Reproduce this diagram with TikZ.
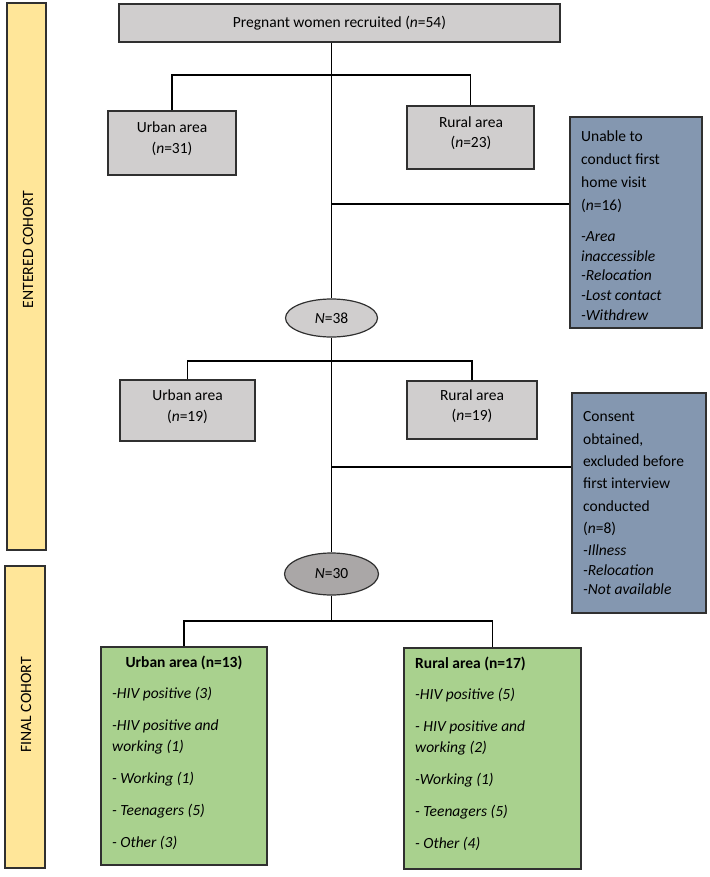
\documentclass[tikz,border=0pt]{standalone}
\usepackage{fontspec}
\setmainfont{Carlito}
\usetikzlibrary{shapes.geometric}
\definecolor{boxgray}{HTML}{D0CECE}
\definecolor{ellgraydark}{HTML}{AAA7A7}
\definecolor{slateblue}{HTML}{8497B0}
\definecolor{leafgreen}{HTML}{A9D18E}
\definecolor{baryellow}{HTML}{FFE699}
\definecolor{edgecol}{HTML}{303030}
\begin{document}
\begin{tikzpicture}[x=1pt,y=-1pt,
  boxbase/.style={draw=edgecol, line width=1.2pt, inner sep=0pt},
  graybox/.style={boxbase, fill=boxgray},
  sidebox/.style={boxbase, fill=slateblue},
  finalbox/.style={boxbase, fill=leafgreen},
  barbox/.style={boxbase, fill=baryellow},
  ell/.style={ellipse, draw=edgecol, line width=1.2pt, inner sep=0pt},
  conn/.style={line width=1.6pt, black},
  txt/.style={inner sep=0pt, font=\fontsize{15.5}{21}\selectfont},
  bartxt/.style={inner sep=0pt, rotate=90, font=\fontsize{15.7}{18}\selectfont},
]
\useasboundingbox (0,0) rectangle (709,877);

% side bars
\node[barbox, minimum width=39pt, minimum height=547pt] (bar1) at (26.5,276.5) {};
\node[bartxt] (bar1t) at (28,249.5) {ENTERED COHORT};
\node[barbox, minimum width=40pt, minimum height=302pt] (bar2) at (25,717) {};
\node[bartxt] (bar2t) at (26,705) {FINAL COHORT};

% top box
\node[graybox, minimum width=441pt, minimum height=38pt, txt] (top) at (339.5,23) {Pregnant women recruited (\textit{n}=54)};

% first level
\node[graybox, minimum width=128pt, minimum height=64pt] (u1) at (172,143) {};
\node[txt, align=center] (u1t) at (172,138.5) {Urban area\\(\textit{n}=31)};
\node[graybox, minimum width=127pt, minimum height=63pt] (r1) at (470.5,137.5) {};
\node[txt, align=center, font=\fontsize{15.5}{20}\selectfont] (r1t) at (471,133) {Rural area\\(\textit{n}=23)};

% side box 1
\node[sidebox, minimum width=132pt, minimum height=211pt] (x1) at (636,222.5) {};
\node[txt, align=left, anchor=north west, font=\fontsize{15.5}{23}\selectfont] (x1t) at (581,130.7)
  {Unable to\\conduct first\\home visit\\(\textit{n}=16)\\[8pt]\textit{-Area}\\[-3.4pt]\textit{inaccessible}\\[-3.4pt]\textit{-Relocation}\\[-3.4pt]\textit{-Lost contact}\\[-3.4pt]\textit{-Withdrew}};

% ellipse 1
\node[ell, fill=boxgray, minimum width=92pt, minimum height=38pt, txt] (e1) at (331.5,318) {\textit{N}=38};

% second level
\node[graybox, minimum width=135pt, minimum height=61pt] (u2) at (187.5,410.5) {};
\node[txt, align=center] (u2t) at (187.5,406.5) {Urban area\\(\textit{n}=19)};
\node[graybox, minimum width=130pt, minimum height=58pt] (r2) at (472,410) {};
\node[txt, align=center, font=\fontsize{15.5}{20}\selectfont] (r2t) at (472,406) {Rural area\\(\textit{n}=19)};

% side box 2
\node[sidebox, minimum width=134pt, minimum height=220pt] (x2) at (639,503) {};
\node[txt, align=left, anchor=north west, font=\fontsize{15.5}{22.4}\selectfont] (x2t) at (583,411.5)
  {Consent\\obtained,\\excluded before\\first interview\\conducted\\(\textit{n}=8)\\[-0.4pt]\textit{-Illness}\\[-3.1pt]\textit{-Relocation}\\[-3.1pt]\textit{-Not available}};

% ellipse 2
\node[ell, fill=ellgraydark, minimum width=94pt, minimum height=42pt, txt] (e2) at (331.5,574) {\textit{N}=30};

% final boxes
\node[finalbox, minimum width=166pt, minimum height=218pt] (g1) at (184,756) {};
\node[txt, font=\fontsize{15.5}{21}\selectfont\bfseries] (g1h) at (184,663) {Urban area (n=13)};
\node[txt, align=left, anchor=north west, font=\fontsize{15.5}{21}\selectfont\itshape] (g1t) at (112,686.5)
  {-HIV positive (3)\\[11pt]-HIV positive and\\working (1)\\[11pt]- Working (1)\\[11pt]- Teenagers (5)\\[11pt]- Other (3)};

\node[finalbox, minimum width=177pt, minimum height=221pt] (g2) at (492.5,758.5) {};
\node[txt, anchor=west, font=\fontsize{15.5}{21}\selectfont\bfseries] (g2h) at (415,664) {Rural area (n=17)};
\node[txt, align=left, anchor=north west, font=\fontsize{15.5}{21}\selectfont\itshape] (g2t) at (415,688)
  {-HIV positive (5)\\[11pt]- HIV positive and\\working (2)\\[11pt]-Working (1)\\[11pt]- Teenagers (5)\\[11pt]- Other (4)};

% branch points
\coordinate (b1) at (331.5,75);
\coordinate (s1) at (331.5,204);
\coordinate (b2) at (331.5,361);
\coordinate (s2) at (331.5,467);
\coordinate (b3) at (331.5,621);

% connectors
\draw[conn] (top.south -| b1) -- (e1.north);
\draw[conn] (u1.north) |- (b1) -| (r1.north);
\draw[conn] (s1) -- (s1 -| x1.west);
\draw[conn] (e1.south) -- (e2.north);
\draw[conn] (u2.north) |- (b2) -| (r2.north);
\draw[conn] (s2) -- (s2 -| x2.west);
\draw[conn] (e2.south) -- (b3);
\draw[conn] (g1.north) |- (b3) -| (g2.north);
\end{tikzpicture}
\end{document}
